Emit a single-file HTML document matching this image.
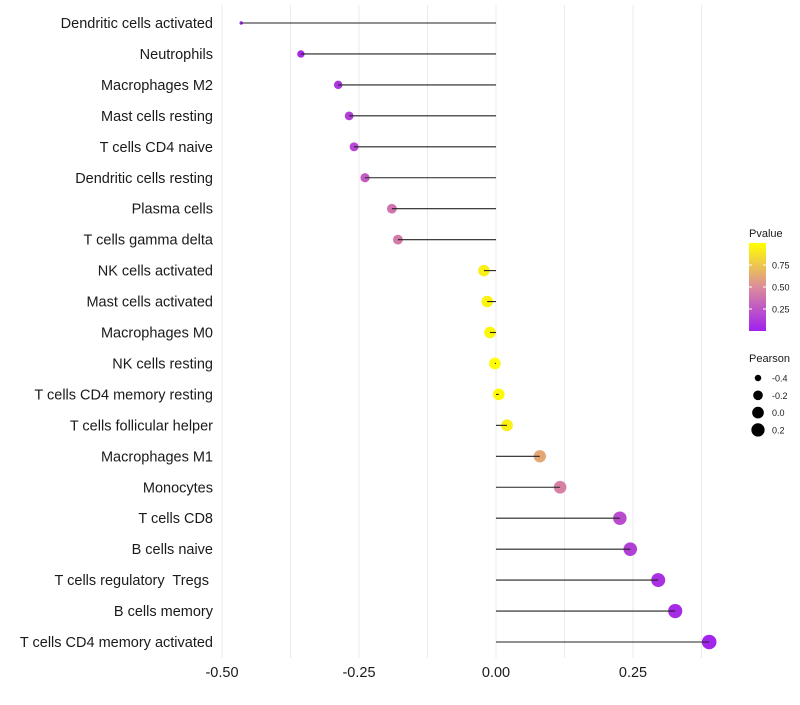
<!DOCTYPE html>
<html><head><meta charset="utf-8"><style>
body{margin:0;background:#fff;font-family:"Liberation Sans",sans-serif}
text{white-space:pre}
</style></head><body>
<svg id="c" width="800" height="700" xmlns="http://www.w3.org/2000/svg" font-family="Liberation Sans, sans-serif"></svg>
<script>
const categories=["Dendritic cells activated","Neutrophils","Macrophages M2","Mast cells resting","T cells CD4 naive","Dendritic cells resting","Plasma cells","T cells gamma delta","NK cells activated","Mast cells activated","Macrophages M0","NK cells resting","T cells CD4 memory resting","T cells follicular helper","Macrophages M1","Monocytes","T cells CD8","B cells naive","T cells regulatory  Tregs ","B cells memory","T cells CD4 memory activated"];
const pearson=[-0.465,-0.356,-0.288,-0.268,-0.259,-0.239,-0.190,-0.179,-0.022,-0.016,-0.011,-0.002,0.005,0.020,0.080,0.117,0.226,0.245,0.296,0.327,0.389];
const pvalue=[0.01,0.05,0.1,0.15,0.18,0.28,0.38,0.42,0.93,0.95,0.96,0.99,0.98,0.93,0.62,0.45,0.2,0.15,0.08,0.05,0.02];
const xTicks=[-0.5,-0.25,0,0.25];
const xTickLabels=["-0.50","-0.25","0.00","0.25"];
const pTicks=[0.25,0.5,0.75];
const pTickLabels=["0.25","0.50","0.75"];
const sizeBreaks=[-0.4,-0.2,0.0,0.2];
const sizeLabels=["-0.4","-0.2","0.0","0.2"];

const svg=document.getElementById('c');
const NS="http://www.w3.org/2000/svg";
function mk(t,a,p){const e=document.createElementNS(NS,t);for(const k in a)e.setAttribute(k,a[k]);(p||svg).appendChild(e);return e;}
const x=v=>496+v*548;
const y=i=>23+i*30.95;
const pmin=Math.min(...pearson),pmax=Math.max(...pearson);
const r=v=>{const t=Math.max(0,(v-pmin)/(pmax-pmin));return 1.7+5.6*Math.sqrt(t);};
function lerp(a,b,t){return a.map((c,i)=>Math.round(c+(b[i]-c)*t));}
function col(p){const s0=[160,32,240],s1=[220,140,156],s2=[255,255,0];
 const c=p<0.5?lerp(s0,s1,p/0.5):lerp(s1,s2,(p-0.5)/0.5);return `rgb(${c.join(',')})`;}

for(let g=-0.5;g<=0.4;g+=0.125){
 const l=mk('line',{x1:x(g),x2:x(g),y1:5,y2:658,stroke:'#ebebeb','stroke-width':1});
 
 
}
categories.forEach((c,i)=>{
 const t=mk('text',{x:213,y:y(i)+5,'text-anchor':'end','font-size':14.5,fill:'#1a1a1a'});
 t.textContent=c;
 
 
 const d=mk('circle',{cx:x(pearson[i]),cy:y(i),r:r(pearson[i]),fill:col(pvalue[i])});
 
 
 const l=mk('line',{x1:x(0),x2:x(pearson[i]),y1:y(i),y2:y(i),stroke:'#222','stroke-width':1.1});
 
 
});
xTicks.forEach((v,i)=>{
 const t=mk('text',{x:x(v),y:677,'text-anchor':'middle','font-size':14.5,fill:'#1a1a1a'});
 t.textContent=xTickLabels[i];
 
 
});
const lt=mk('text',{x:749,y:237,'font-size':11,fill:'#1a1a1a'});lt.textContent='Pvalue';


const defs=mk('defs',{});
const gr=mk('linearGradient',{id:'pg',x1:0,y1:1,x2:0,y2:0},defs);
[[0,0],[0.5,0.5],[1,1]].forEach(s=>mk('stop',{offset:s[0],'stop-color':col(s[1])},gr));
const py=p=>331-p*88;
const bar=mk('rect',{x:749,y:243,width:17,height:88,fill:'url(#pg)'});


pTicks.forEach((p,i)=>{
 mk('line',{x1:749,x2:752,y1:py(p),y2:py(p),stroke:'#fff'});
 mk('line',{x1:763,x2:766,y1:py(p),y2:py(p),stroke:'#fff'});
 const t=mk('text',{x:772,y:py(p)+3.5,'font-size':9,fill:'#1a1a1a'});t.textContent=pTickLabels[i];
 
 
});
const st=mk('text',{x:749,y:362,'font-size':11,fill:'#1a1a1a'});st.textContent='Pearson';


sizeBreaks.forEach((v,i)=>{
 const cy=378+i*17.3;
 const d=mk('circle',{cx:758,cy:cy,r:r(v),fill:'#000'});
 
 
 const t=mk('text',{x:772,y:cy+3.5,'font-size':9,fill:'#1a1a1a'});t.textContent=sizeLabels[i];
 
 
});
</script>
</body></html>
